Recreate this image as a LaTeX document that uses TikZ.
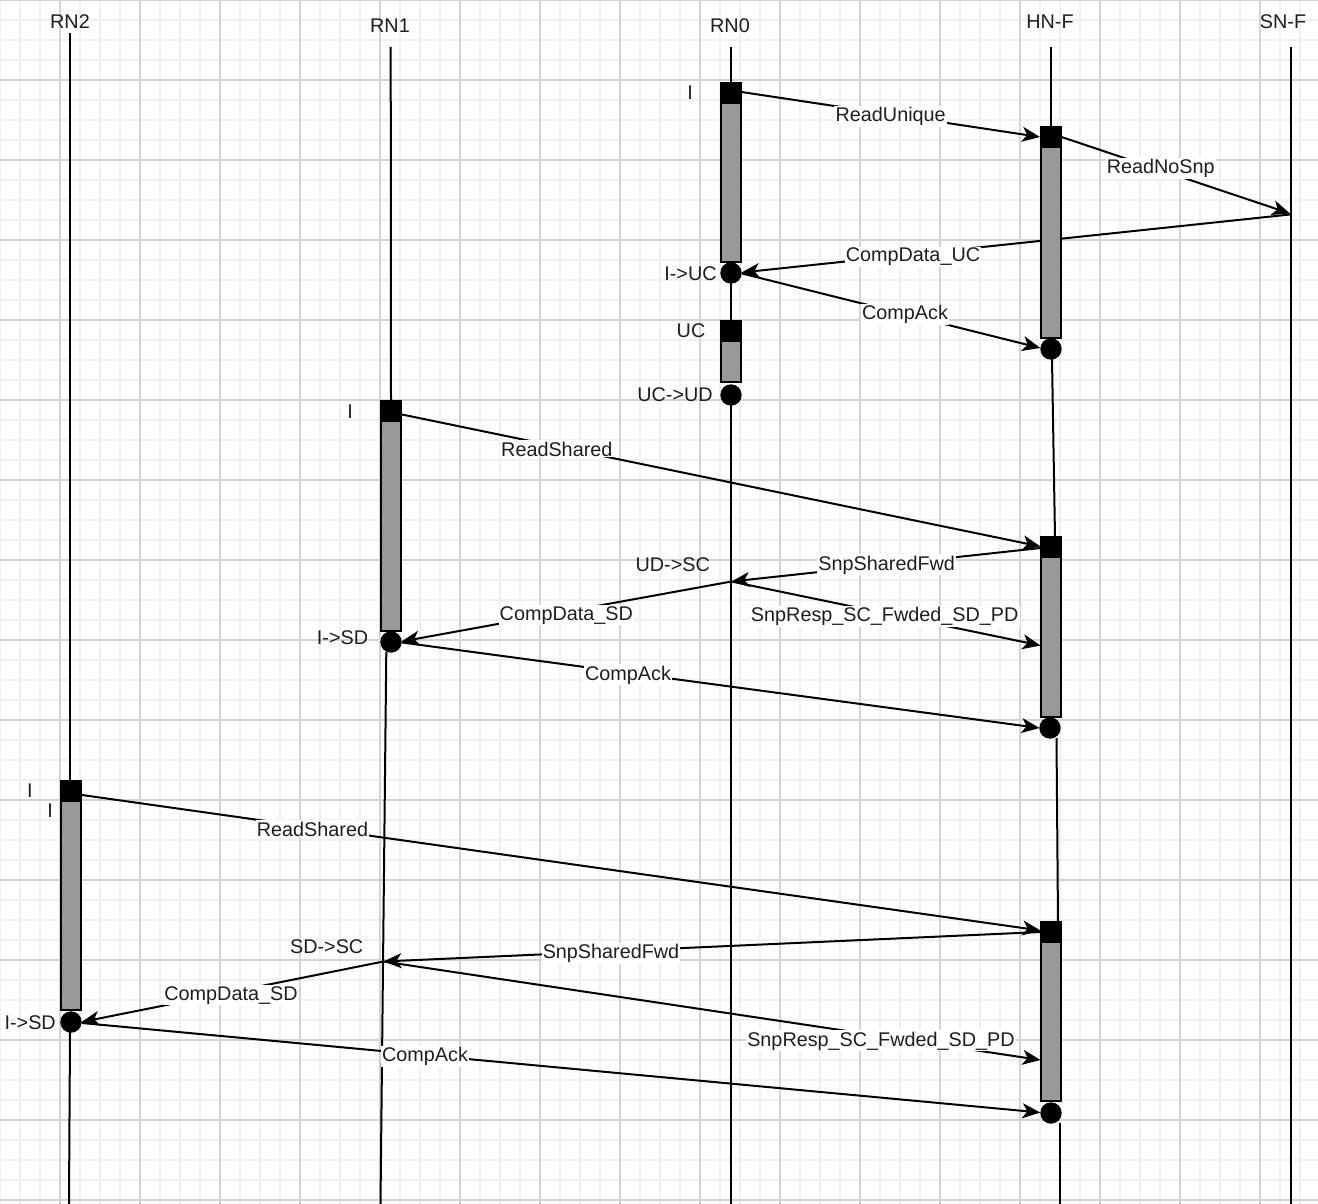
\documentclass[tikz,border=0pt]{standalone}
\usepackage{fontspec}
\setmainfont{Liberation Sans}
\usetikzlibrary{arrows.meta}
\definecolor{gminor}{HTML}{F0F0F0}
\definecolor{gmajor}{HTML}{D4D4D4}
\definecolor{txt}{HTML}{1E1E1E}
\definecolor{actgray}{HTML}{999999}
\begin{document}
\begin{tikzpicture}[x=1pt,y=-1pt,
  minorgrid/.style={gminor, line width=1.5pt},
  majorgrid/.style={gmajor, line width=1.5pt},
  lifeline/.style={black, line width=2pt},
  msg/.style={black, line width=2pt, -{Stealth[length=18pt,width=15pt,inset=5pt]}},
  acthead/.style={fill=black, draw=black, line width=2pt},
  actbody/.style={fill=actgray, draw=black, line width=2pt},
  endcirc/.style={fill=black},
  lbl/.style={fill=white, inner sep=1.2pt, anchor=base, text=txt, font=\fontsize{19.8}{22}\selectfont},
  st/.style={inner sep=0pt, anchor=base, text=txt, font=\fontsize{19.8}{22}\selectfont},
]
\useasboundingbox (0,0) rectangle (1318,1204);
\fill[white] (0,0) rectangle (1318,1204);
% grid
\foreach \x in {0,20,...,1320} \draw[minorgrid] (\x,0) -- (\x,1204);
\foreach \y in {0,20,...,1200} \draw[minorgrid] (0,\y) -- (1318,\y);
\foreach \x in {60,140,...,1300} \draw[majorgrid] (\x,0) -- (\x,1204);
\foreach \y in {0,80,...,1200} \draw[majorgrid] (0,\y) -- (1318,\y);

% lifeline titles
\node[st] (tRN2) at (70,28.3) {RN2};
\node[st] (tRN1) at (390,32.3) {RN1};
\node[st] (tRN0) at (730,32.3) {RN0};
\node[st] (tHNF) at (1050,28.3) {HN-F};
\node[st] (tSNF) at (1283,28.3) {SN-F};

% lifelines
\draw[lifeline] (70,33) -- (70,781);
\draw[lifeline] (70,1032) -- (69,1204);
\draw[lifeline] (390.7,47) -- (391,401);
\draw[lifeline] (386.3,652) -- (380.5,1204);
\draw[lifeline] (731,47) -- (731,83);
\draw[lifeline] (731,283) -- (731,321);
\draw[lifeline] (731,405) -- (731,1204);
\draw[lifeline] (1051,47) -- (1051,127);
\draw[lifeline] (1052,359) -- (1055,537);
\draw[lifeline] (1056.5,738) -- (1058,922);
\draw[lifeline] (1060,1123) -- (1060,1204);
\draw[lifeline] (1290.5,47) -- (1290.5,1204);

% end points of messages
\coordinate (rn0a) at (741.5,92);
\coordinate (hnAin) at (1040,137);
\coordinate (hnAout) at (1061.5,137);
\coordinate (snA) at (1290,213.5);
\coordinate (snB) at (1290,214.5);
\coordinate (rn0c) at (741.5,272.5);
\coordinate (rn0d) at (742,273.5);
\coordinate (hnAc) at (1040.3,348);
\coordinate (rn1a) at (402,414.5);
\coordinate (hnBin) at (1040.5,546.5);
\coordinate (hnBout) at (1040.5,548);
\coordinate (rn0j) at (731.5,581.5);
\coordinate (rn1c) at (401.5,641.5);
\coordinate (hnBr) at (1040.5,645.5);
\coordinate (rn1d) at (402,642.5);
\coordinate (hnBc) at (1039.5,728);
\coordinate (rn2a) at (82,795);
\coordinate (hnCin) at (1040.5,930.5);
\coordinate (hnCout) at (1040.5,932);
\coordinate (rn1j) at (383.5,961.5);
\coordinate (rn2c) at (81.5,1022);
\coordinate (hnCr) at (1040.5,1060);
\coordinate (rn2d) at (82,1023);
\coordinate (hnCc) at (1040.3,1112.5);

% messages
\draw[msg] (rn0a) -- (hnAin);
\draw[msg] (hnAout) -- (snA);
\draw[msg] (snB) -- (rn0c);
\draw[msg] (rn0d) -- (hnAc);
\draw[msg] (rn1a) -- (hnBin);
\draw[msg] (hnBout) -- (rn0j);
\draw[msg] (rn0j) -- (rn1c);
\draw[msg] (rn0j) -- (hnBr);
\draw[msg] (rn1d) -- (hnBc);
\draw[msg] (rn2a) -- (hnCin);
\draw[msg] (hnCout) -- (rn1j);
\draw[msg] (rn1j) -- (rn2c);
\draw[msg] (rn1j) -- (hnCr);
\draw[msg] (rn2d) -- (hnCc);

% activation bars
\draw[actbody] (721,83) rectangle (741,262);
\draw[acthead] (721,83) rectangle (741,103);
\draw[actbody] (721,321) rectangle (741,382);
\draw[acthead] (721,321) rectangle (741,341);
\draw[actbody] (1041,127) rectangle (1061,338);
\draw[acthead] (1041,127) rectangle (1061,147);
\draw[actbody] (1041,537) rectangle (1061,717);
\draw[acthead] (1041,537) rectangle (1061,557);
\draw[actbody] (1041,922) rectangle (1061,1101);
\draw[acthead] (1041,922) rectangle (1061,942);
\draw[actbody] (381,401) rectangle (401,631);
\draw[acthead] (381,401) rectangle (401,421);
\draw[actbody] (61,781) rectangle (81,1010);
\draw[acthead] (61,781) rectangle (81,801);

% end circles
\fill[endcirc] (731,273) circle[radius=10.7pt];
\fill[endcirc] (731,395) circle[radius=10.7pt];
\fill[endcirc] (1051,349) circle[radius=10.7pt];
\fill[endcirc] (1050,728) circle[radius=10.7pt];
\fill[endcirc] (1051,1113) circle[radius=10.7pt];
\fill[endcirc] (391,642) circle[radius=10.7pt];
\fill[endcirc] (71,1022) circle[radius=10.7pt];

% state labels
\node[st] (s1) at (690,99.3) {I};
\node[st] (s2) at (690.5,280) {I->UC};
\node[st] (s3) at (691,337.3) {UC};
\node[st] (s4) at (675,401.7) {UC->UD};
\node[st] (s5) at (350,418.3) {I};
\node[st] (s6) at (342.5,644) {I->SD};
\node[st] (s7) at (672.7,571.7) {UD->SC};
\node[st] (s8) at (30,797.3) {I};
\node[st] (s9) at (50,817.3) {I};
\node[st] (s10) at (30.2,1029.3) {I->SD};
\node[st] (s11) at (326.7,953.3) {SD->SC};

% message labels
\node[lbl] (m1) at (890.7,121.7) {ReadUnique};
\node[lbl] (m2) at (1160.8,173.3) {ReadNoSnp};
\node[lbl] (m3) at (913,261.7) {CompData\_UC};
\node[lbl] (m4) at (905,319.3) {CompAck};
\node[lbl] (m5) at (556.8,456) {ReadShared};
\node[lbl] (m6) at (886.7,570) {SnpSharedFwd};
\node[lbl] (m7) at (566.3,620) {CompData\_SD};
\node[lbl] (m8) at (884.7,621.7) {SnpResp\_SC\_Fwded\_SD\_PD};
\node[lbl] (m9) at (628,680) {CompAck};
\node[lbl] (m10) at (312.5,836) {ReadShared};
\node[lbl] (m11) at (611,958.3) {SnpSharedFwd};
\node[lbl] (m12) at (231,1000) {CompData\_SD};
\node[lbl] (m13) at (881,1046) {SnpResp\_SC\_Fwded\_SD\_PD};
\node[lbl] (m14) at (425,1061.7) {CompAck};
\end{tikzpicture}
\end{document}
